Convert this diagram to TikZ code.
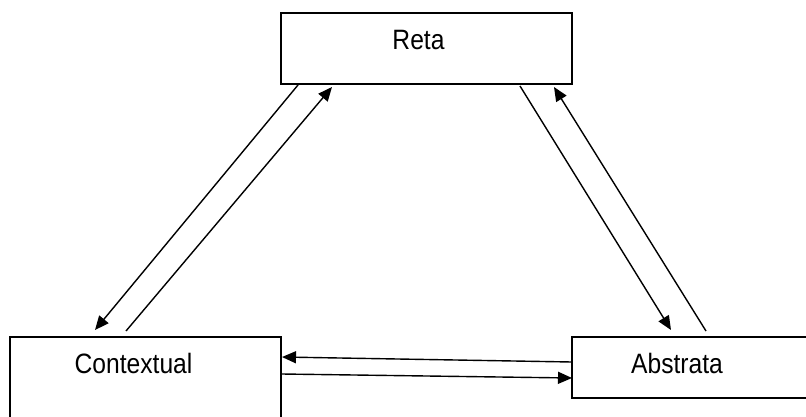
\documentclass[tikz,border=0pt]{standalone}
\usepackage{fontspec}
\setmainfont[FakeStretch=0.88]{Liberation Sans}
\usetikzlibrary{arrows.meta,calc}
\begin{document}
\begin{tikzpicture}[x=1pt,y=-1pt,
  box/.style={draw, line width=2pt, rectangle, inner sep=0pt, outer sep=0pt},
  lbl/.style={anchor=base, inner sep=0pt, font=\fontsize{28}{30}\selectfont},
  link/.style={line width=1.4pt, -{Triangle[length=14pt,width=12pt]}}]
% page frame
\fill[white] (0,0) rectangle (806,416);
\path[clip] (0,0) rectangle (806,416);

% the three boxes
\node[box, minimum width=291pt, minimum height=71pt]  (reta) at (426.5,48.5) {};
\node[box, minimum width=271pt, minimum height=103pt] (ctx)  at (145.5,388.5) {};
\node[box, minimum width=258pt, minimum height=61pt]  (abs)  at (701,367.5) {};

% their labels
\node[lbl] (retaT) at (418.5,49)  {Reta};
\node[lbl] (ctxT)  at (133.5,373) {Contextual};
\node[lbl] (absT)  at (677,373)   {Abstrata};

% Reta <-> Contextual
\draw[link] ($(reta.south west)+(17,1)$) -- ($(ctx.north west)+(85,-7)$);
\draw[link] ($(ctx.north west)+(116,-6)$) -- ($(reta.south west)+(51,3)$);

% Reta <-> Abstrata
\draw[link] ($(reta.south west)+(239,2)$) -- ($(abs.north west)+(99,-7)$);
\draw[link] ($(abs.north west)+(134,-6)$) -- ($(reta.south west)+(273,3)$);

% Contextual <-> Abstrata
\draw[link] ($(abs.north west)+(0,25)$) -- ($(ctx.north east)+(1,20)$);
\draw[link] ($(ctx.north east)+(1,37)$) -- ($(abs.north west)+(0,41)$);
\end{tikzpicture}
\end{document}
